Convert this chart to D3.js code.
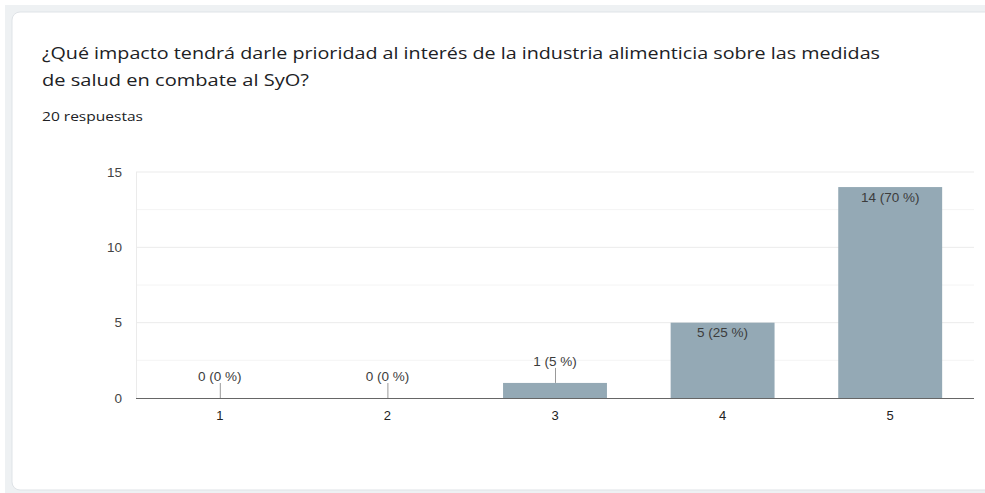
<!DOCTYPE html>
<html><head><meta charset="utf-8">
<script src="https://cdn.jsdelivr.net/npm/d3@7"></script>
<style>body{margin:0;background:#fff;}svg{display:block}</style>
</head><body>
<script>
const categories = ["1","2","3","4","5"];
const counts = [0,0,1,5,14];
const labels = ["0 (0 %)","0 (0 %)","1 (5 %)","5 (25 %)","14 (70 %)"];
const yTicks = [0,5,10,15];
const yGrid = [2.5,5,7.5,10,12.5,15];
const titleLines = ["¿Qué impacto tendrá darle prioridad al interés de la industria alimenticia sobre las medidas","de salud en combate al SyO?"];
const subtitle = "20 respuestas";

const W=985,H=493;
const svg=d3.select("body").append("svg").attr("width",W).attr("height",H);
// background band and card
svg.append("rect").attr("x",5).attr("y",5).attr("width",W).attr("height",H-5).attr("fill","#eef1f3");
svg.append("rect").attr("x",12).attr("y",12).attr("width",W+20).attr("height",478).attr("rx",8)
  .attr("fill","#fff").attr("stroke","#dfe3e7").attr("stroke-width",1);

const tg=svg.append("g").attr("font-family","'Open Sans', Roboto, sans-serif").attr("fill","#202124");
const tLens=[838,267];
tg.selectAll("text.t").data(titleLines).join("text").attr("class","t")
  .attr("x",42).attr("y",(d,i)=>59+i*27).attr("font-size",17)
  .attr("textLength",(d,i)=>tLens[i]).attr("lengthAdjust","spacingAndGlyphs").text(d=>d);
tg.append("text").attr("x",42).attr("y",121).attr("font-size",12.5)
  .attr("textLength",101).attr("lengthAdjust","spacingAndGlyphs").text(subtitle);

const m={l:136,r:974,t:172,b:398};
const x=d3.scaleBand().domain(categories).range([m.l,m.r]).paddingInner(0.38).paddingOuter(0.19);
const y=d3.scaleLinear().domain([0,15]).range([m.b,m.t]);

const g=svg.append("g").attr("font-family","Arial, 'Liberation Sans', sans-serif");
// grid
g.selectAll("line.grid").data(yGrid).join("line").attr("class","grid")
  .attr("x1",m.l).attr("x2",m.r).attr("y1",d=>y(d)).attr("y2",d=>y(d))
  .attr("stroke",d=>d%5===0?"#ebebeb":"#f4f4f4").attr("stroke-width",1);
g.append("line").attr("x1",m.l+0.5).attr("x2",m.l+0.5).attr("y1",m.t).attr("y2",m.b).attr("stroke","#ebebeb");

// y axis
const ya=g.append("g").attr("transform",`translate(${m.l-14},0)`)
  .call(d3.axisLeft(y).tickValues(yTicks).tickSize(0).tickPadding(0));
ya.select(".domain").remove();
ya.selectAll("text").attr("font-size",13.5).attr("fill","#444").attr("font-family","Arial, 'Liberation Sans', sans-serif");

// bars
g.selectAll("rect.bar").data(counts).join("rect").attr("class","bar")
  .attr("x",(d,i)=>x(categories[i])).attr("width",x.bandwidth())
  .attr("y",d=>y(d)).attr("height",d=>y(0)-y(d)).attr("fill","#94a9b5");

// baseline
g.append("line").attr("x1",m.l).attr("x2",m.r).attr("y1",m.b+0.5).attr("y2",m.b+0.5).attr("stroke","#666").attr("stroke-width",1.2);

// x axis
const xa=g.append("g").attr("transform",`translate(0,${m.b})`)
  .call(d3.axisBottom(x).tickSize(0).tickPadding(13));
xa.select(".domain").remove();
xa.selectAll("text").attr("font-size",13).attr("fill","#222").attr("font-family","Arial, 'Liberation Sans', sans-serif");

// labels
counts.forEach((v,i)=>{
  const cx=x(categories[i])+x.bandwidth()/2;
  const inside = y(0)-y(v) > 25;
  if(inside){
    g.append("text").attr("x",cx).attr("y",y(v)+14.5).attr("text-anchor","middle")
      .attr("font-size",13.5).attr("fill","#3c3c3c").text(labels[i]);
  } else {
    g.append("line").attr("x1",cx+0.5).attr("x2",cx+0.5).attr("y1",y(v)-15).attr("y2",y(v)).attr("stroke","#999");
    g.append("text").attr("x",cx).attr("y",y(v)-17).attr("text-anchor","middle")
      .attr("font-size",13.5).attr("fill","#3c3c3c").text(labels[i]);
  }
});
</script>
</body></html>
